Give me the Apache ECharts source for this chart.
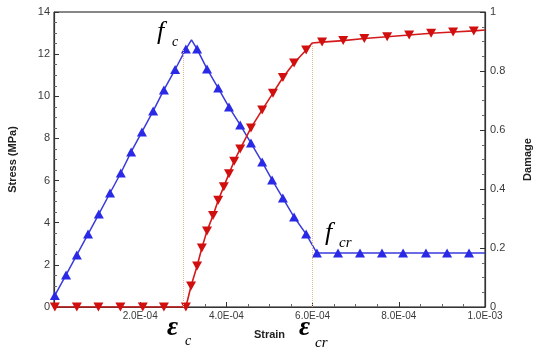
<!DOCTYPE html>
<html>
<head>
<meta charset="utf-8">
<script src="https://cdn.jsdelivr.net/npm/echarts@6/dist/echarts.min.js"></script>
<style>
html,body{margin:0;padding:0;background:#fff;}
#c{width:534px;height:348px;}
</style>
</head>
<body>
<div id="c"></div>
<script>
// ---- data ----
var stressStrain = [0.02e-4,0.28e-4,0.53e-4,0.79e-4,1.04e-4,1.30e-4,1.55e-4,1.79e-4,2.04e-4,2.30e-4,2.55e-4,2.81e-4,3.06e-4,3.19e-4,3.32e-4,3.55e-4,3.81e-4,4.06e-4,4.32e-4,4.57e-4,4.83e-4,5.06e-4,5.31e-4,5.57e-4,5.85e-4,6.10e-4,6.59e-4,7.10e-4,7.61e-4,8.10e-4,8.63e-4,9.12e-4,9.63e-4,10.0e-4];
var stressValues = [0.55,1.52,2.47,3.46,4.41,5.41,6.36,7.36,8.31,9.30,10.30,11.27,12.24,12.68,12.24,11.30,10.39,9.49,8.64,7.78,6.88,6.03,5.17,4.27,3.46,2.56,2.56,2.56,2.56,2.56,2.56,2.56,2.56,2.56];
var stressNoMarker = [13,33];

var damageStrain = [0.02e-4,0.53e-4,1.03e-4,1.54e-4,2.06e-4,2.55e-4,3.06e-4,3.18e-4,3.32e-4,3.43e-4,3.55e-4,3.69e-4,3.81e-4,3.94e-4,4.06e-4,4.18e-4,4.32e-4,4.57e-4,4.83e-4,5.08e-4,5.31e-4,5.57e-4,5.85e-4,5.99e-4,6.22e-4,6.71e-4,7.20e-4,7.73e-4,8.24e-4,8.75e-4,9.26e-4,9.74e-4,10.0e-4];
var damageValues = [0,0,0,0,0,0,0,0.071,0.139,0.200,0.258,0.310,0.362,0.408,0.452,0.494,0.536,0.607,0.668,0.725,0.778,0.827,0.871,0.895,0.898,0.903,0.910,0.916,0.922,0.928,0.932,0.936,0.939];
var damageNoMarker = [23,32];

var xTickLabels = ['', '2.0E-04', '4.0E-04', '6.0E-04', '8.0E-04', '1.0E-03'];
var epsC = 2.99e-4, epsCTopStress = 12.2;
var epsCr = 5.99e-4, epsCrTopDamage = 0.895;

function build(xs, ys, skip) {
  return xs.map(function (x, i) {
    var it = { value: [x, ys[i]] };
    if (skip.indexOf(i) >= 0) it.symbol = 'none';
    return it;
  });
}

var chart = echarts.init(document.getElementById('c'), null, { renderer: 'canvas' });
var axisTxt = { color: '#3a3a3a', fontFamily: 'Liberation Sans, Arial, sans-serif' };
var nameTxt = { color: '#222', fontWeight: 'bold', fontSize: 11, fontFamily: 'Liberation Sans, Arial, sans-serif' };

chart.setOption({
  animation: false,
  backgroundColor: '#fff',
  grid: { left: 54, right: 49, top: 12, bottom: 41, containLabel: false, outerBoundsMode: 'none', show: true, borderColor: '#111', borderWidth: 1, backgroundColor: 'transparent' },
  xAxis: {
    type: 'value', min: 0, max: 0.001, interval: 0.0002,
    name: 'Strain', nameLocation: 'middle', nameGap: 22, nameTextStyle: nameTxt,
    axisLine: { show: true, onZero: false, lineStyle: { color: '#333', width: 1.2 } },
    axisTick: { show: true, inside: true, length: 5, lineStyle: { color: '#333' } },
    minorTick: { show: true, splitNumber: 4, length: 3, lineStyle: { color: '#666' } },
    splitLine: { show: false },
    axisLabel: Object.assign({ fontSize: 10, margin: 4, formatter: function (v) { return xTickLabels[Math.round(v / 0.0002)] || ''; } }, axisTxt)
  },
  yAxis: [{
    type: 'value', min: 0, max: 14, interval: 2, position: 'left',
    name: 'Stress (MPa)', nameLocation: 'middle', nameGap: 36, nameRotate: 90, nameTextStyle: nameTxt,
    axisLine: { show: true, onZero: false, lineStyle: { color: '#333', width: 1.2 } },
    axisTick: { show: true, inside: true, length: 5, lineStyle: { color: '#333' } },
    minorTick: { show: true, splitNumber: 4, length: 3, lineStyle: { color: '#666' } },
    splitLine: { show: false },
    axisLabel: Object.assign({ fontSize: 11, margin: 4 }, axisTxt)
  }, {
    type: 'value', min: 0, max: 1, interval: 0.2, position: 'right',
    name: 'Damage', nameLocation: 'middle', nameGap: 37, nameRotate: 90, nameTextStyle: nameTxt,
    axisLine: { show: true, onZero: false, lineStyle: { color: '#333', width: 1.2 } },
    axisTick: { show: true, inside: true, length: 5, lineStyle: { color: '#333' } },
    minorTick: { show: true, splitNumber: 4, length: 3, lineStyle: { color: '#666' } },
    splitLine: { show: false },
    axisLabel: Object.assign({ fontSize: 11, margin: 5 }, axisTxt)
  }],
  series: [{
    type: 'line', name: 'Stress', yAxisIndex: 0,
    data: build(stressStrain, stressValues, stressNoMarker),
    symbol: 'triangle', symbolSize: [10, 9], showAllSymbol: true,
    lineStyle: { color: '#3b3bdc', width: 1.5 },
    itemStyle: { color: '#2a2ae6' },
    z: 3,
    markLine: {
      silent: true, symbol: 'none', label: { show: false },
      lineStyle: { color: '#e3b98a', type: 'dotted', width: 1 },
      data: [[{ coord: [epsC, 0] }, { coord: [epsC, epsCTopStress] }]]
    }
  }, {
    type: 'line', name: 'Damage', yAxisIndex: 1,
    data: build(damageStrain, damageValues, damageNoMarker),
    symbol: 'triangle', symbolRotate: 180, symbolSize: [10, 9], showAllSymbol: true,
    lineStyle: { color: '#d41a1a', width: 1.6 },
    itemStyle: { color: '#d10f0f' },
    z: 4,
    markLine: {
      silent: true, symbol: 'none', label: { show: false },
      lineStyle: { color: '#e3b98a', type: 'dotted', width: 1 },
      data: [[{ coord: [epsCr, 0] }, { coord: [epsCr, epsCrTopDamage] }]]
    }
  }],
  graphic: [
    { type: 'text', x: 157, y: 32, style: { text: 'f', font: 'italic 26px "Liberation Serif", serif', fill: '#000', align: 'left', verticalAlign: 'middle' } },
    { type: 'text', x: 172, y: 42, style: { text: 'c', font: 'italic 14px "Liberation Serif", serif', fill: '#000', align: 'left', verticalAlign: 'middle' } },
    { type: 'text', x: 325, y: 233, style: { text: 'f', font: 'italic 26px "Liberation Serif", serif', fill: '#000', align: 'left', verticalAlign: 'middle' } },
    { type: 'text', x: 339, y: 243, style: { text: 'cr', font: 'italic 15px "Liberation Serif", serif', fill: '#000', align: 'left', verticalAlign: 'middle' } },
    { type: 'text', x: 167, y: 328, style: { text: 'ε', font: 'italic bold 27px "Liberation Serif", serif', fill: '#000', align: 'left', verticalAlign: 'middle' } },
    { type: 'text', x: 185, y: 341, style: { text: 'c', font: 'italic 14px "Liberation Serif", serif', fill: '#000', align: 'left', verticalAlign: 'middle' } },
    { type: 'text', x: 299, y: 328, style: { text: 'ε', font: 'italic bold 27px "Liberation Serif", serif', fill: '#000', align: 'left', verticalAlign: 'middle' } },
    { type: 'text', x: 315, y: 343, style: { text: 'cr', font: 'italic 15px "Liberation Serif", serif', fill: '#000', align: 'left', verticalAlign: 'middle' } }
  ]
});
</script>
</body>
</html>
